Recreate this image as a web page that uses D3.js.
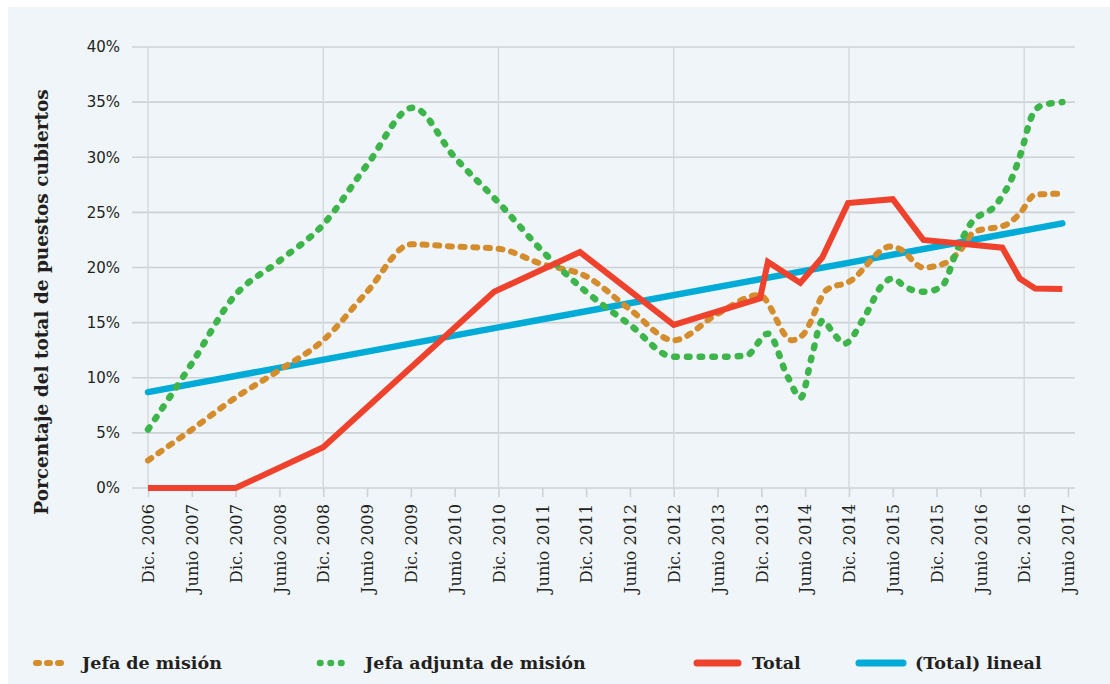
<!DOCTYPE html>
<html><head><meta charset="utf-8">
<script src="https://cdn.jsdelivr.net/npm/d3@7"></script>
<style>
html,body{margin:0;padding:0;background:#fff;}
svg{display:block;}
text{font-family:"DejaVu Serif",serif;fill:#231f20;}
.xl{font-family:"DejaVu Serif",serif;font-size:16.3px;}
</style></head>
<body>
<svg id="chart" width="1110" height="684"></svg>
<script>
// ---- data (x as half-year index: 0 = Dic. 2006, 21 = Junio 2017) ----
const tickLabels = ["Dic. 2006","Junio 2007","Dic. 2007","Junio 2008","Dic. 2008","Junio 2009","Dic. 2009","Junio 2010","Dic. 2010","Junio 2011","Dic. 2011","Junio 2012","Dic. 2012","Junio 2013","Dic. 2013","Junio 2014","Dic. 2014","Junio 2015","Dic. 2015","Junio 2016","Dic. 2016","Junio 2017"];
const yTicks = [0,5,10,15,20,25,30,35,40];

const jefaX = [0,1,2,3,4,5,6,7,8,9,10,11,12,13,13.95,14.7,14.95,15.5,16,16.95,17.15,17.7,18.2,18.55,18.85,19.6,19.9,20.25,20.87];
const jefaY = [2.5,5.3,8.2,10.7,13.4,17.8,22.1,21.9,21.7,20.3,19.2,16.2,13.4,15.8,17.5,13.4,13.9,18.0,18.7,21.9,21.7,20.0,20.4,21.6,23.2,23.9,24.9,26.6,26.7];

const adjX = [0,1,1.95,3,4,5,6.05,7,8,9,10,11,12,13,13.65,14.15,14.6,14.9,15.15,15.4,15.65,15.9,16.35,16.8,17.0,17.3,17.7,18.1,18.5,18.75,19.4,19.75,19.95,20.15,20.4,20.87];
const adjY = [5.3,11.3,17.3,20.6,23.9,29.3,34.5,30.0,25.9,21.5,17.8,14.8,11.9,11.9,12.0,14.0,10.1,8.2,11.9,15.2,14.0,13.1,15.5,18.6,19.0,18.2,17.8,18.2,21.9,23.8,25.9,28.4,30.7,33.5,34.7,35.0];

const totalX = [0,2,4,7.9,9.86,12,13.97,14.15,14.89,15.39,15.98,17.0,17.7,19.5,19.9,20.25,20.87];
const totalY = [0,0,3.7,17.8,21.4,14.8,17.2,20.5,18.6,20.9,25.85,26.2,22.5,21.8,19.0,18.1,18.05];

const linealX = [0,20.87];
const linealY = [8.7,24.0];

const legendLabels = ["Jefa de misión","Jefa adjunta de misión","Total","(Total) lineal"];

// ---- chart ----
const svg = d3.select("#chart");
svg.append("rect").attr("x",8).attr("y",7).attr("width",1102).attr("height",677).attr("fill","#eff5f8");

const x = d3.scaleLinear().domain([0,21]).range([148,1068]);
const y = d3.scaleLinear().domain([0,40]).range([488,47]);

const grid = svg.append("g");
grid.selectAll("line.h").data(yTicks).join("line")
  .attr("x1",132).attr("x2",1075).attr("y1",d=>y(d)).attr("y2",d=>y(d))
  .attr("stroke","#cfd2d5").attr("stroke-width",1.6);
grid.selectAll("line.v").data(d3.range(0,22,4)).join("line")
  .attr("x1",d=>x(d)).attr("x2",d=>x(d)).attr("y1",y(40)).attr("y2",y(0))
  .attr("stroke","#d5d8db").attr("stroke-width",1.4);

// x axis
const xAxis = d3.axisBottom(x).tickValues(d3.range(0,22)).tickFormat(i=>tickLabels[i]).tickSize(9).tickPadding(6);
const gx = svg.append("g").attr("transform",`translate(0,${y(0)})`).call(xAxis);
gx.attr("font-family",null).attr("font-size",null);
gx.select(".domain").remove();
gx.selectAll(".tick line").attr("stroke","#cfd2d5").attr("stroke-width",1.6);
gx.selectAll(".tick text").attr("class","xl")
  .attr("transform","rotate(-90)").attr("text-anchor","end")
  .attr("x",-16).attr("y",0).attr("dy","0.35em").attr("fill","#231f20");

// y axis
const yAxis = d3.axisLeft(y).tickValues(yTicks).tickFormat(d=>d+"%").tickSize(0).tickPadding(12);
const gy = svg.append("g").attr("transform",`translate(132,0)`).call(yAxis);
gy.select(".domain").remove();
gy.selectAll(".tick text").style("font-size","15px").style("font-family","'DejaVu Sans', sans-serif").attr("fill","#231f20");

svg.append("text").attr("transform",`translate(48,302) rotate(-90)`)
  .attr("text-anchor","middle").style("font-size","18.5px").style("font-weight","bold")
  .text("Porcentaje del total de puestos cubiertos");

// lines
const toPts = (xs,ys)=>xs.map((v,i)=>[v,ys[i]]);
const smooth = d3.line().x(d=>x(d[0])).y(d=>y(d[1])).curve(d3.curveMonotoneX);
const straight = d3.line().x(d=>x(d[0])).y(d=>y(d[1]));

const colors = {jefa:"#d48c2c", adj:"#3db54a", total:"#ef422d", lineal:"#00acd7"};

svg.append("path").attr("d",straight(toPts(linealX,linealY))).attr("fill","none")
  .attr("stroke",colors.lineal).attr("stroke-width",6.5).attr("stroke-linecap","round");
svg.append("path").attr("d",smooth(toPts(jefaX,jefaY))).attr("fill","none")
  .attr("stroke",colors.jefa).attr("stroke-width",6).attr("stroke-linecap","round").attr("stroke-dasharray","4,8.7");
svg.append("path").attr("d",smooth(toPts(adjX,adjY))).attr("fill","none")
  .attr("stroke",colors.adj).attr("stroke-width",6.5).attr("stroke-linecap","round").attr("stroke-dasharray","2.5,10.2");
svg.append("path").attr("d",straight(toPts(totalX,totalY))).attr("fill","none")
  .attr("stroke",colors.total).attr("stroke-width",6).attr("stroke-linejoin","miter").attr("stroke-linecap","butt");

// legend
const lg = svg.append("g");
const items = [
  {label:legendLabels[0], c:colors.jefa, dash:"3,8", x0:36, x1:68, tx:82, w:6},
  {label:legendLabels[1], c:colors.adj, dash:"0.5,10", x0:320, x1:351, tx:365, w:6.5},
  {label:legendLabels[2], c:colors.total, dash:null, x0:697, x1:738, tx:752, w:7},
  {label:legendLabels[3], c:colors.lineal, dash:null, x0:859, x1:903, tx:915, w:7}
];
items.forEach(it=>{
  const ln = lg.append("line").attr("x1",it.x0).attr("x2",it.x1).attr("y1",663).attr("y2",663)
    .attr("stroke",it.c).attr("stroke-width",it.w).attr("stroke-linecap","round");
  if(it.dash) ln.attr("stroke-dasharray",it.dash);
  lg.append("text").attr("x",it.tx).attr("y",663).attr("dy","0.35em")
    .style("font-size","17.5px").style("font-weight","bold").text(it.label);
});
</script>
</body></html>
